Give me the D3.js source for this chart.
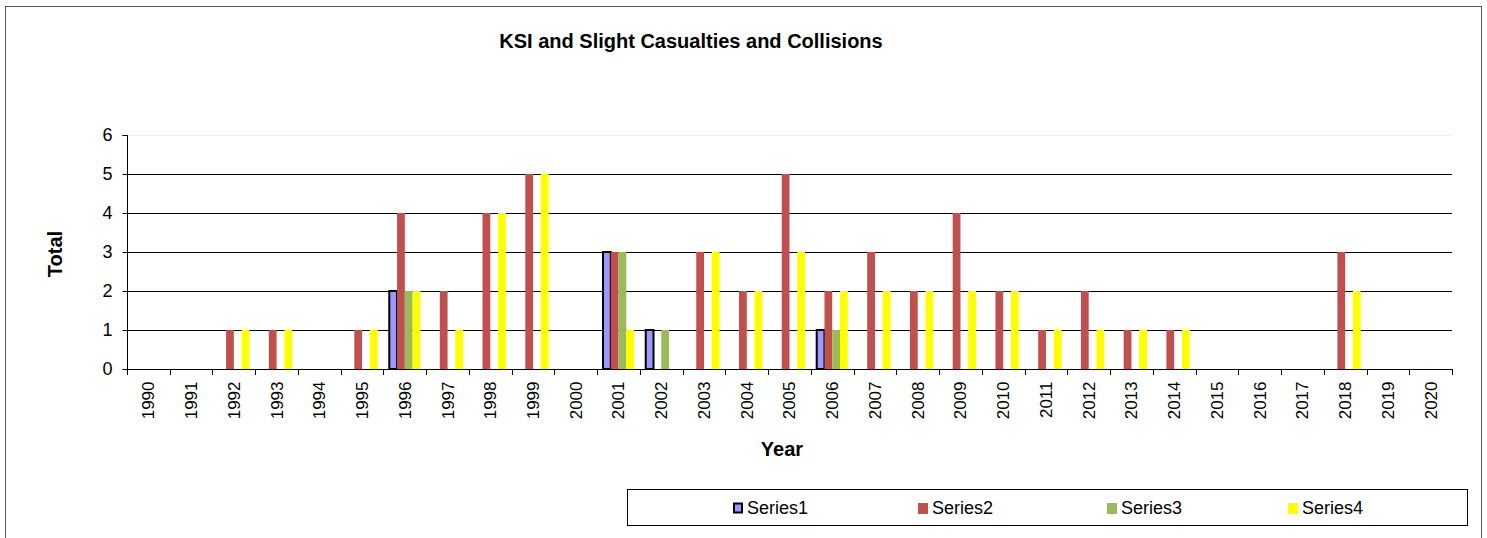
<!DOCTYPE html>
<html>
<head>
<meta charset="utf-8">
<script src="https://cdn.jsdelivr.net/npm/d3@7/dist/d3.min.js"></script>
<style>
body { margin: 0; background: #fff; }
text { font-family: Arial, "Liberation Sans", sans-serif; }
</style>
</head>
<body>
<svg></svg>
<script>
let width = 1487;
let height = 538;

let years = d3.range(1990, 2021).map(String);
let seriesNames = ['Series1', 'Series2', 'Series3', 'Series4'];
let colors = ['#9999FF', '#C0504D', '#9BBB59', '#FFFF00'];

// values per year, 1990..2020
let series1 = [0,0,0,0,0,0,2,0,0,0,0,3,1,0,0,0,1,0,0,0,0,0,0,0,0,0,0,0,0,0,0];
let series2 = [0,0,1,1,0,1,4,2,4,5,0,3,0,3,2,5,2,3,2,4,2,1,2,1,1,0,0,0,3,0,0];
let series3 = [0,0,0,0,0,0,2,0,0,0,0,3,1,0,0,0,1,0,0,0,0,0,0,0,0,0,0,0,0,0,0];
let series4 = [0,0,1,1,0,1,2,1,4,5,0,1,0,3,2,3,2,2,2,2,2,1,1,1,1,0,0,0,2,0,0];
let yTicks = [0, 1, 2, 3, 4, 5, 6];

let allSeries = [series1, series2, series3, series4];

let svg = d3.select('svg')
    .attr('width', width)
    .attr('height', height)

// outer chart frame
svg.append('rect')
    .attr('x', 5.5)
    .attr('y', 6.5)
    .attr('width', 1476)
    .attr('height', 560)
    .attr('fill', 'none')
    .attr('stroke', '#555')
    .attr('stroke-width', 1)

let x0 = d3.scaleBand()
    .domain(years)
    .range([127, 1452])

let x1 = d3.scaleBand()
    .domain(seriesNames)
    .range([0, x0.bandwidth()])
    .paddingOuter(0.75)

let y = d3.scaleLinear()
    .domain([0, 6])
    .range([369, 135])

// plot area top border (light)
svg.append('line')
    .attr('x1', 127).attr('x2', 1452)
    .attr('y1', 135.5).attr('y2', 135.5)
    .attr('stroke', '#eee')

// gridlines
svg.append('g')
    .selectAll('line')
    .data(yTicks.filter(d => d > 0 && d < 6))
    .enter()
    .append('line')
    .attr('x1', 127)
    .attr('x2', 1452)
    .attr('y1', d => Math.round(y(d)) + 0.5)
    .attr('y2', d => Math.round(y(d)) + 0.5)
    .attr('stroke', '#000')

// bars
let groups = svg.append('g')
    .selectAll('g')
    .data(years)
    .enter()
    .append('g')
    .attr('transform', d => 'translate(' + x0(d) + ',0)')

groups.selectAll('rect')
    .data(function (d, i) {
        return seriesNames.map((s, j) => ({ s: s, j: j, v: allSeries[j][i] }))
    })
    .enter()
    .filter(d => d.v > 0)
    .append('rect')
    .attr('x', d => x1(d.s))
    .attr('y', d => y(d.v))
    .attr('width', x1.bandwidth())
    .attr('height', d => y(0) - y(d.v))
    .attr('fill', d => colors[d.j])
    .attr('stroke', d => d.j == 0 ? '#000' : 'none')
    .attr('stroke-width', 2)

// y axis
let yAxis = d3.axisLeft(y)
    .tickValues(yTicks)
    .tickSize(5)
    .tickPadding(10)
    .tickFormat(d3.format('d'))

svg.append('g')
    .attr('transform', 'translate(127.5,0)')
    .call(yAxis)
    .call(g => g.select('.domain').attr('stroke', '#000').attr('d', 'M-5,135.5H0V369.5H-5'))
    .call(g => g.selectAll('text').attr('font-size', 18).attr('fill', '#000'))

// x axis
let xAxis = d3.axisBottom(x0)
    .tickSize(0)
    .tickPadding(0)

let xg = svg.append('g')
    .attr('transform', 'translate(0,369.5)')
    .call(xAxis)

xg.select('.domain').attr('d', 'M127,0H1452')
xg.selectAll('text')
    .attr('font-size', 17)
    .attr('fill', '#000')
    .attr('transform', 'rotate(-90)')
    .attr('text-anchor', 'end')
    .attr('dy', '0.35em')
    .attr('x', -12)
    .attr('y', 0)

// tick marks between categories
svg.append('g')
    .selectAll('line')
    .data(years.concat(['end']))
    .enter()
    .append('line')
    .attr('x1', (d, i) => Math.round(127 + i * x0.step()) + 0.5)
    .attr('x2', (d, i) => Math.round(127 + i * x0.step()) + 0.5)
    .attr('y1', 369)
    .attr('y2', 375)
    .attr('stroke', '#000')

// title and axis labels
svg.append('text')
    .attr('x', 691)
    .attr('y', 48)
    .attr('text-anchor', 'middle')
    .attr('font-size', 20)
    .attr('font-weight', 'bold')
    .text('KSI and Slight Casualties and Collisions')

svg.append('text')
    .attr('x', 782)
    .attr('y', 456)
    .attr('text-anchor', 'middle')
    .attr('font-size', 20)
    .attr('font-weight', 'bold')
    .text('Year')

svg.append('text')
    .attr('transform', 'translate(62,254) rotate(-90)')
    .attr('text-anchor', 'middle')
    .attr('font-size', 20)
    .attr('font-weight', 'bold')
    .text('Total')

// legend
svg.append('rect')
    .attr('x', 627.5)
    .attr('y', 489.5)
    .attr('width', 840)
    .attr('height', 36)
    .attr('fill', '#fff')
    .attr('stroke', '#000')

let legendX = [733, 918, 1107, 1288];
let legend = svg.append('g')
    .selectAll('g')
    .data(seriesNames)
    .enter()
    .append('g')
    .attr('transform', (d, i) => 'translate(' + legendX[i] + ',508)')

legend.append('rect')
    .attr('x', (d, i) => i == 0 ? 1 : 0)
    .attr('y', (d, i) => i == 0 ? -4.5 : -5)
    .attr('width', (d, i) => i == 0 ? 8 : 10)
    .attr('height', (d, i) => i == 0 ? 9 : 11)
    .attr('fill', (d, i) => colors[i])
    .attr('stroke', (d, i) => i == 0 ? '#000' : 'none')
    .attr('stroke-width', 2)

legend.append('text')
    .attr('x', 14)
    .attr('dy', '0.35em')
    .attr('font-size', 18)
    .text(d => d)
</script>
</body>
</html>
